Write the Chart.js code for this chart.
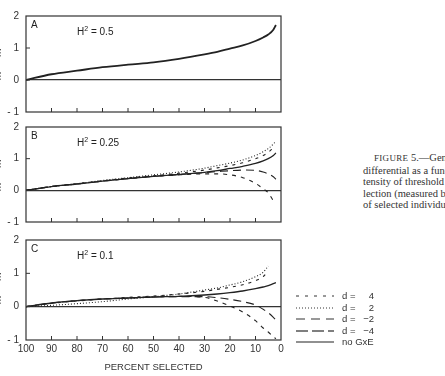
<!DOCTYPE html>
<html lang="en">
<head>
    <meta charset="UTF-8">
    <title>Figure 5</title>
    <script src="https://cdn.jsdelivr.net/npm/chart.js"></script>
    <style>
        body { margin: 0; width: 445px; height: 376px; overflow: hidden; background: #fff; position: relative; font-family: "Liberation Sans", Arial, sans-serif; color: #222; }
        .panel { position: absolute; left: 0; width: 300px; }
        .lbl { position: absolute; font-size: 10px; }
        .ytitle { position: absolute; font-size: 10px; transform: rotate(-90deg); transform-origin: center; white-space: nowrap; }
        .caption { position: absolute; left: 363px; top: 152px; font-family: "Liberation Serif", serif; font-size: 10.5px; line-height: 11.6px; white-space: nowrap; color: #333; }
        .legend { position: absolute; left: 296px; top: 290px; font-size: 9.5px; color: #333; }
        .legend div { height: 11.5px; display: flex; align-items: center; }
        .legend svg { width: 38px; height: 11px; margin-right: 8px; }
        .legend span.n { display: inline-block; width: 16px; text-align: right; }
    </style>
</head>
<body>
    <div class="panel" style="top:0;height:125px"><canvas id="chartA"></canvas></div>
    <div class="panel" style="top:110px;height:125px"><canvas id="chartB"></canvas></div>
    <div class="panel" style="top:225px;height:151px"><canvas id="chartC"></canvas></div>

    <!-- panel text -->
    <div class="lbl" style="left:31px;top:19px">A</div>
    <div class="lbl" style="left:77px;top:25px">H<sup style="font-size:7px">2</sup> = 0.5</div>
    <div class="lbl" style="left:31px;top:130px">B</div>
    <div class="lbl" style="left:77px;top:136px">H<sup style="font-size:7px">2</sup> = 0.25</div>
    <div class="lbl" style="left:31px;top:243px">C</div>
    <div class="lbl" style="left:77px;top:249px">H<sup style="font-size:7px">2</sup> = 0.1</div>

    <div class="ytitle" style="left:-18px;top:59px">m̄″ − m̄</div>
    <div class="ytitle" style="left:-18px;top:170px">m̄″ − m̄</div>
    <div class="ytitle" style="left:-18px;top:283px">m̄″ − m̄</div>

    <div class="caption">
        <div style="padding-left:11px"><span style="font-size:9px;letter-spacing:0.3px">FIGURE</span> 5.—Genotypic selection</div>
        <div>differential as a function of the in-</div>
        <div>tensity of threshold phenotypic se-</div>
        <div>lection (measured by the percentage</div>
        <div>of selected individuals).</div>
    </div>

    <div class="legend">
        <div><svg><line x1="0" y1="6" x2="38" y2="6" stroke="#333" stroke-width="1" stroke-dasharray="3,6"/></svg>d =&nbsp;<span class="n">4</span></div>
        <div><svg><line x1="0" y1="6" x2="38" y2="6" stroke="#333" stroke-width="1" stroke-dasharray="1,2"/></svg>d =&nbsp;<span class="n">2</span></div>
        <div><svg><line x1="0" y1="6" x2="38" y2="6" stroke="#333" stroke-width="1.2" stroke-dasharray="9,6"/></svg>d =&nbsp;<span class="n">−2</span></div>
        <div><svg><line x1="0" y1="6" x2="38" y2="6" stroke="#555" stroke-width="1.6" stroke-dasharray="12,4"/></svg>d =&nbsp;<span class="n">−4</span></div>
        <div><svg><line x1="0" y1="6" x2="38" y2="6" stroke="#222" stroke-width="1.2"/></svg>no GxE</div>
    </div>

    <script>
        // percent selected (x values)
        const pct = [100, 90, 80, 70, 60, 50, 40, 30, 25, 20, 15, 10, 7, 5, 3, 2];
        const yTicks = [-1, 0, 1, 2];

        // panel A, H2 = 0.5
        const noGxeA = [0, 0.18, 0.29, 0.40, 0.48, 0.55, 0.66, 0.80, 0.88, 0.98, 1.08, 1.22, 1.33, 1.42, 1.57, 1.72];

        // panel B, H2 = 0.25
        const noGxeB = [0, 0.12, 0.20, 0.29, 0.37, 0.44, 0.50, 0.57, 0.62, 0.69, 0.76, 0.85, 0.93, 1.00, 1.10, 1.18];
        const d4B    = [0, 0.12, 0.21, 0.30, 0.39, 0.46, 0.54, 0.64, 0.71, 0.78, 0.87, 1.00, 1.10, 1.20, 1.34, null];
        const d2B    = [0, 0.12, 0.21, 0.31, 0.40, 0.49, 0.58, 0.70, 0.78, 0.86, 0.96, 1.10, 1.22, 1.32, 1.46, 1.56];
        const dm2B   = [0, 0.12, 0.20, 0.29, 0.37, 0.44, 0.50, 0.56, 0.59, 0.62, 0.64, 0.63, 0.58, 0.52, 0.43, 0.35];
        const dm4B   = [0, 0.12, 0.20, 0.29, 0.37, 0.44, 0.49, 0.52, 0.52, 0.49, 0.40, 0.22, 0.05, -0.08, -0.33, null];

        // panel C, H2 = 0.1
        const noGxeC = [0, 0.11, 0.18, 0.23, 0.26, 0.29, 0.31, 0.35, 0.38, 0.42, 0.47, 0.54, 0.59, 0.63, 0.69, 0.72];
        const d4C    = [0, 0.10, 0.17, 0.23, 0.28, 0.32, 0.38, 0.46, 0.52, 0.58, 0.66, 0.78, 0.90, 1.06, null, null];
        const d2C    = [0, 0.04, 0.09, 0.15, 0.23, 0.30, 0.38, 0.50, 0.56, 0.65, 0.75, 0.90, 1.03, 1.22, null, null];
        const dm2C   = [0, 0.11, 0.18, 0.23, 0.26, 0.29, 0.30, 0.30, 0.27, 0.22, 0.15, 0.05, -0.08, -0.18, -0.32, -0.40];
        const dm4C   = [0, 0.11, 0.18, 0.23, 0.26, 0.29, 0.31, 0.28, 0.17, 0.02, -0.16, -0.42, -0.64, -0.76, -0.90, -0.96];

        const ink = '#222';

        function pts(vals) {
            return pct.map((p, i) => ({ x: p, y: vals[i] })).filter(d => d.y !== null);
        }

        function line(vals, dash, width, color) {
            return {
                data: pts(vals),
                borderColor: color || ink,
                borderWidth: width || 1.1,
                borderDash: dash || [],
                pointRadius: 0,
                fill: false,
                cubicInterpolationMode: 'monotone'
            };
        }

        // box + inward tick marks, like the printed figure
        const frame = {
            id: 'frame',
            afterDraw(chart) {
                const { ctx, chartArea: a } = chart;
                const x = chart.scales.x, y = chart.scales.y;
                ctx.save();
                ctx.strokeStyle = '#333';
                ctx.lineWidth = 1.2;
                ctx.strokeRect(a.left, a.top, a.right - a.left, a.bottom - a.top);
                ctx.lineWidth = 1;
                ctx.beginPath();
                x.ticks.forEach(t => {
                    const px = x.getPixelForValue(t.value);
                    if (px > a.left + 2 && px < a.right - 2) {
                        ctx.moveTo(px, a.bottom);
                        ctx.lineTo(px, a.bottom - 4);
                    }
                });
                y.ticks.forEach(t => {
                    const py = y.getPixelForValue(t.value);
                    if (py > a.top + 2 && py < a.bottom - 2) {
                        ctx.moveTo(a.left, py);
                        ctx.lineTo(a.left + 4, py);
                    }
                });
                ctx.stroke();
                ctx.restore();
            }
        };

        function makeChart(id, datasets, padTop, padBottom, showX) {
            return new Chart(document.getElementById(id), {
                type: 'line',
                data: { datasets: datasets },
                options: {
                    responsive: true,
                    maintainAspectRatio: false,
                    animation: false,
                    events: [],
                    layout: { padding: { top: padTop, bottom: padBottom, left: 0, right: 19 } },
                    plugins: { legend: { display: false }, tooltip: { enabled: false } },
                    scales: {
                        x: {
                            type: 'linear',
                            reverse: true,
                            min: 0,
                            max: 100,
                            grid: { display: false, drawTicks: false },
                            border: { display: false },
                            ticks: {
                                display: showX,
                                stepSize: 10,
                                padding: 3,
                                color: '#333',
                                font: { family: 'Liberation Sans', size: 10 }
                            },
                            title: {
                                display: showX,
                                text: 'PERCENT SELECTED',
                                color: '#333',
                                font: { family: 'Liberation Sans', size: 9.5 },
                                padding: { top: 2, bottom: 3 }
                            },
                            afterFit(s) { s.height = showX ? 36 : 0; }
                        },
                        y: {
                            min: -1,
                            max: 2,
                            afterBuildTicks(s) { s.ticks = yTicks.map(v => ({ value: v })); },
                            grid: {
                                drawTicks: false,
                                lineWidth: 1.2,
                                color: c => (c.tick && c.tick.value === 0) ? '#333' : 'rgba(0,0,0,0)'
                            },
                            border: { display: false },
                            ticks: {
                                padding: 7,
                                color: '#333',
                                font: { family: 'Liberation Sans', size: 10 },
                                callback: v => v < 0 ? '- ' + Math.abs(v) : String(v)
                            },
                            afterFit(s) { s.width = 26; }
                        }
                    }
                },
                plugins: [frame]
            });
        }

        makeChart('chartA', [line(noGxeA, [], 1.8)], 16, 8, false);

        makeChart('chartB', [
            line(d2B, [1, 2]),
            line(d4B, [3, 5]),
            line(noGxeB, [], 1.3),
            line(dm2B, [8, 5]),
            line(dm4B, [4, 5])
        ], 17, 7, false);

        makeChart('chartC', [
            line(d2C, [1, 2]),
            line(d4C, [3, 5]),
            line(noGxeC, [], 1.3),
            line(dm2C, [8, 5]),
            line(dm4C, [4, 5])
        ], 15, 0, true);
    </script>
</body>
</html>
